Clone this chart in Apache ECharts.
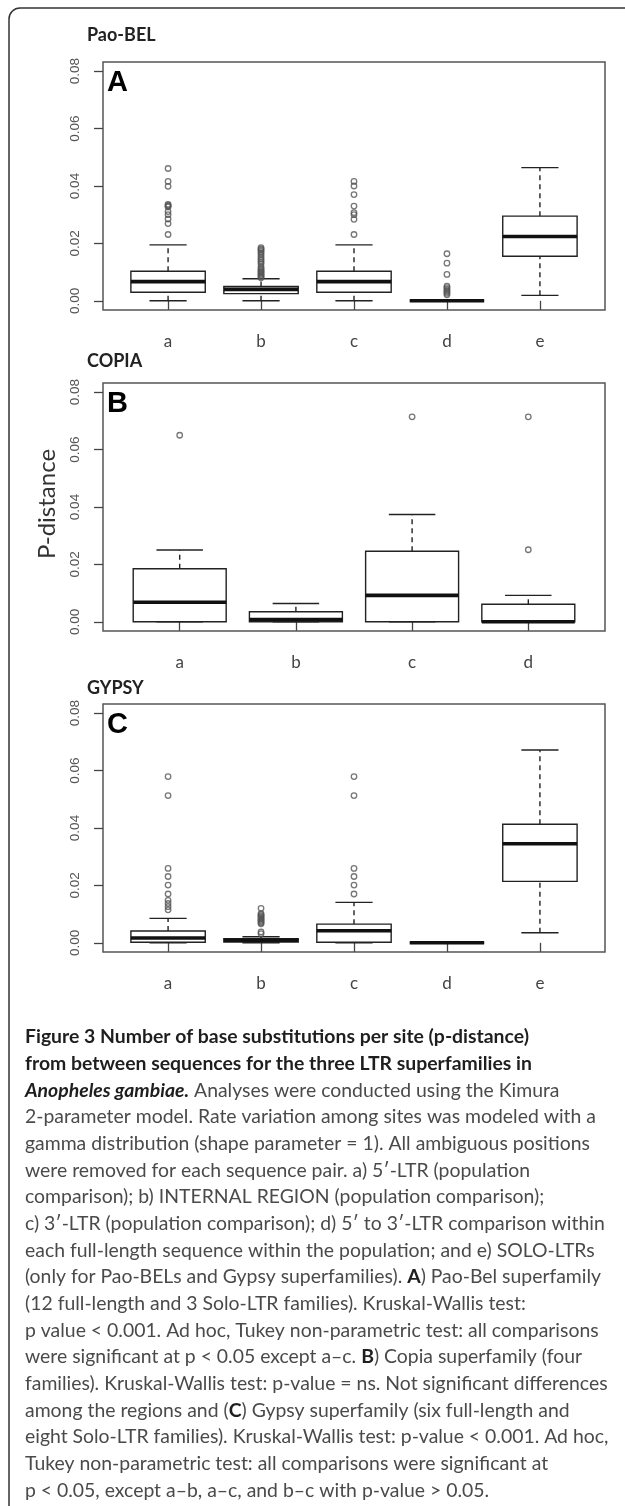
<!DOCTYPE html>
<html>
<head>
<meta charset="utf-8">
<title>Figure 3 - p-distance by region</title>
<script src="https://cdn.jsdelivr.net/npm/echarts@6/dist/echarts.min.js"></script>
<style>
  html, body { margin: 0; padding: 0; background: #fff; }
  #chart { width: 625px; height: 1506px; }
</style>
</head>
<body>
<div id="chart"></div>
<script>
// region labels on the x axis
const regions5 = ['a', 'b', 'c', 'd', 'e'];
const regions4 = ['a', 'b', 'c', 'd'];
const yTicks = [0, 0.02, 0.04, 0.06, 0.08];

// box stats: [lower whisker, Q1, median, Q3, upper whisker]
const paoBelBoxes = [
  [0, 0.0030, 0.0067, 0.0103, 0.0195],
  [0, 0.0025, 0.0040, 0.0050, 0.0077],
  [0, 0.0030, 0.0067, 0.0103, 0.0195],
  [0, 0, 0, 0, 0],
  [0.0019, 0.0155, 0.0224, 0.0295, 0.0464]
];
// outliers: [region position, value]
const paoBelOutliers = [
  [1, 0.0461], [1, 0.0416], [1, 0.0399], [1, 0.0336], [1, 0.0333], [1, 0.0330], [1, 0.0327],
  [1, 0.0311], [1, 0.0300], [1, 0.0285], [1, 0.0269], [1, 0.0231],
  [2, 0.0185], [2, 0.0181], [2, 0.0177], [2, 0.0172], [2, 0.0166], [2, 0.0160], [2, 0.0152],
  [2, 0.0146], [2, 0.0140], [2, 0.0134], [2, 0.0128], [2, 0.0118], [2, 0.0113], [2, 0.0108],
  [2, 0.0104], [2, 0.0100], [2, 0.0096], [2, 0.0092], [2, 0.0088], [2, 0.0084], [2, 0.0080],
  [3, 0.0416], [3, 0.0400], [3, 0.0370], [3, 0.0330], [3, 0.0307], [3, 0.0300], [3, 0.0284], [3, 0.0231],
  [4, 0.0164], [4, 0.0131], [4, 0.0092], [4, 0.0051], [4, 0.0046], [4, 0.0041], [4, 0.0036],
  [4, 0.0031], [4, 0.0026], [4, 0.0021]
];

const copiaBoxes = [
  [0, 0, 0.0068, 0.0185, 0.0250],
  [0, 0, 0.0008, 0.0035, 0.0064],
  [0, 0, 0.0092, 0.0246, 0.0374],
  [0, 0, 0, 0.0061, 0.0092]
];
const copiaOutliers = [
  [1, 0.0650],
  [3, 0.0714],
  [4, 0.0714], [4, 0.0251]
];

const gypsyBoxes = [
  [0, 0.0002, 0.0017, 0.0041, 0.0085],
  [0, 0.0003, 0.0009, 0.0014, 0.0021],
  [0, 0.0002, 0.0042, 0.0065, 0.0141],
  [0, 0, 0, 0, 0],
  [0.0035, 0.0214, 0.0345, 0.0413, 0.0672]
];
const gypsyOutliers = [
  [1, 0.0579], [1, 0.0513], [1, 0.0259], [1, 0.0231], [1, 0.0201], [1, 0.0170],
  [1, 0.0148], [1, 0.0137], [1, 0.0126], [1, 0.0115],
  [2, 0.0120], [2, 0.0102], [2, 0.0098], [2, 0.0094], [2, 0.0090], [2, 0.0086], [2, 0.0082],
  [2, 0.0078], [2, 0.0074], [2, 0.0070], [2, 0.0066], [2, 0.0038], [2, 0.0032],
  [3, 0.0579], [3, 0.0513], [3, 0.0259], [3, 0.0231], [3, 0.0201], [3, 0.0170]
];

const panelTitles = ['Pao-BEL', 'COPIA', 'GYPSY'];
const panelLetters = ['A', 'B', 'C'];

const captionLines = [
  '{b|Figure 3 Number of base substitutions per site (p-distance)}',
  '{b|from between sequences for the three LTR superfamilies in}',
  '{bi|Anopheles gambiae.} Analyses were conducted using the Kimura',
  '2-parameter model. Rate variation among sites was modeled with a',
  'gamma distribution (shape parameter = 1). All ambiguous positions',
  'were removed for each sequence pair. a) 5\u2032-LTR (population',
  'comparison); b) INTERNAL REGION (population comparison);',
  'c) 3\u2032-LTR (population comparison); d) 5\u2032 to 3\u2032-LTR comparison within',
  'each full-length sequence within the population; and e) SOLO-LTRs',
  '(only for Pao-BELs and Gypsy superfamilies). {b|A}) Pao-Bel superfamily',
  '(12 full-length and 3 Solo-LTR families). Kruskal-Wallis test:',
  'p value < 0.001. Ad hoc, Tukey non-parametric test: all comparisons',
  'were significant at p < 0.05 except a\u2013c. {b|B}) Copia superfamily (four',
  'families). Kruskal-Wallis test: p-value = ns. Not significant differences',
  'among the regions and ({b|C}) Gypsy superfamily (six full-length and',
  'eight Solo-LTR families). Kruskal-Wallis test: p-value < 0.001. Ad hoc,',
  'Tukey non-parametric test: all comparisons were significant at',
  'p < 0.05, except a\u2013b, a\u2013c, and b\u2013c with p-value > 0.05.'
];

const gridTops = [62, 383, 704];
const ink = '#222';

function renderBox(params, api) {
  const x = api.value(0);
  const lo = api.value(1), q1 = api.value(2), med = api.value(3), q3 = api.value(4), hi = api.value(5);
  const c = (dx, v) => api.coord([x + dx, v]);
  const solid = { stroke: ink, lineWidth: 1.4 };
  const dashed = { stroke: ink, lineWidth: 1.4, lineDash: [5, 4] };
  const seg = (a, b, style) => ({
    type: 'line', shape: { x1: a[0], y1: a[1], x2: b[0], y2: b[1] }, style: style
  });
  const tl = c(-0.4, q3), br = c(0.4, q1);
  return {
    type: 'group',
    children: [
      seg(c(0, q3), c(0, hi), dashed),
      seg(c(0, lo), c(0, q1), dashed),
      seg(c(-0.2, hi), c(0.2, hi), solid),
      seg(c(-0.2, lo), c(0.2, lo), solid),
      {
        type: 'rect',
        shape: { x: tl[0], y: tl[1], width: br[0] - tl[0], height: br[1] - tl[1] },
        style: { fill: '#fff', stroke: ink, lineWidth: 1.4 }
      },
      seg(c(-0.4, med), c(0.4, med), { stroke: '#111', lineWidth: 3.6 })
    ]
  };
}

function xAxisFor(gridIndex, cats) {
  const n = cats.length;
  const pos = cats.map((_, i) => i + 1);
  return {
    type: 'value', gridIndex: gridIndex,
    min: 0.5 - 0.04 * n, max: n + 0.5 + 0.04 * n,
    axisLine: { show: false },
    splitLine: { show: false },
    axisTick: { show: true, customValues: pos, length: 9, lineStyle: { color: '#444', width: 1.3 } },
    axisLabel: {
      customValues: pos, margin: 23,
      formatter: v => cats[Math.round(v) - 1],
      fontFamily: 'Lato', fontSize: 17, color: '#444'
    }
  };
}

function yAxisFor(gridIndex) {
  return {
    type: 'value', gridIndex: gridIndex,
    min: -0.0032, max: 0.0832,
    axisLine: { show: false },
    splitLine: { show: false },
    axisTick: { show: true, customValues: yTicks, length: 9, lineStyle: { color: '#444', width: 1.3 } },
    axisLabel: {
      customValues: yTicks, rotate: 90, margin: 21,
      formatter: v => v.toFixed(2),
      fontFamily: 'Liberation Sans', fontSize: 13.5, color: '#555'
    }
  };
}

const panels = [
  { cats: regions5, boxes: paoBelBoxes, outliers: paoBelOutliers },
  { cats: regions4, boxes: copiaBoxes, outliers: copiaOutliers },
  { cats: regions5, boxes: gypsyBoxes, outliers: gypsyOutliers }
];

const series = [];
panels.forEach((p, i) => {
  series.push({
    type: 'custom', xAxisIndex: i, yAxisIndex: i,
    renderItem: renderBox,
    encode: { x: 0, y: [1, 2, 3, 4, 5] },
    data: p.boxes.map((b, k) => [k + 1].concat(b)),
    silent: true, z: 2
  });
  series.push({
    type: 'scatter', xAxisIndex: i, yAxisIndex: i,
    data: p.outliers,
    symbol: 'circle', symbolSize: 5.5,
    itemStyle: { color: 'rgba(255,255,255,0)', borderColor: '#555', borderWidth: 1.3 },
    silent: true, z: 3
  });
});

const graphics = [
  {
    type: 'rect', silent: true,
    shape: { x: 9, y: 8, width: 700, height: 1560, r: [11, 0, 0, 0] },
    style: { fill: 'none', stroke: '#333', lineWidth: 1.5 }
  },
  {
    type: 'text', rotation: Math.PI / 2, silent: true,
    style: { text: 'P-distance', font: '24px Lato', fill: '#333', align: 'center', verticalAlign: 'middle' },
    x: 47, y: 504
  }
];
const titleY = [35, 361, 688];
panelTitles.forEach((t, i) => {
  graphics.push({
    type: 'text', x: 87, y: titleY[i], silent: true,
    style: { text: t, font: 'bold 18px Lato', fill: '#222', verticalAlign: 'middle' }
  });
  graphics.push({
    type: 'text', x: 107, y: gridTops[i] + 21, silent: true,
    style: { text: panelLetters[i], font: 'bold 29px "Liberation Sans"', fill: '#000', verticalAlign: 'middle' }
  });
});
captionLines.forEach((line, i) => {
  graphics.push({
    type: 'text', x: 25, y: 1037 + i * 26.67, silent: true,
    style: {
      text: line, font: '19.4px Lato', fill: '#4a4a4a', verticalAlign: 'middle',
      rich: {
        b: { font: 'bold 19.4px Lato', fill: '#1e1e1e' },
        bi: { font: 'italic bold 19.4px Lato', fill: '#1e1e1e' }
      }
    }
  });
});

const chart = echarts.init(document.getElementById('chart'), null, { renderer: 'canvas' });
chart.setOption({
  animation: false,
  backgroundColor: '#fff',
  grid: gridTops.map(t => ({
    left: 103, top: t, width: 502, height: 248,
    show: true, borderColor: '#555', borderWidth: 1.5,
    containLabel: false, outerBoundsMode: 'none'
  })),
  xAxis: panels.map((p, i) => xAxisFor(i, p.cats)),
  yAxis: panels.map((p, i) => yAxisFor(i)),
  series: series,
  graphic: graphics
});
</script>
</body>
</html>
